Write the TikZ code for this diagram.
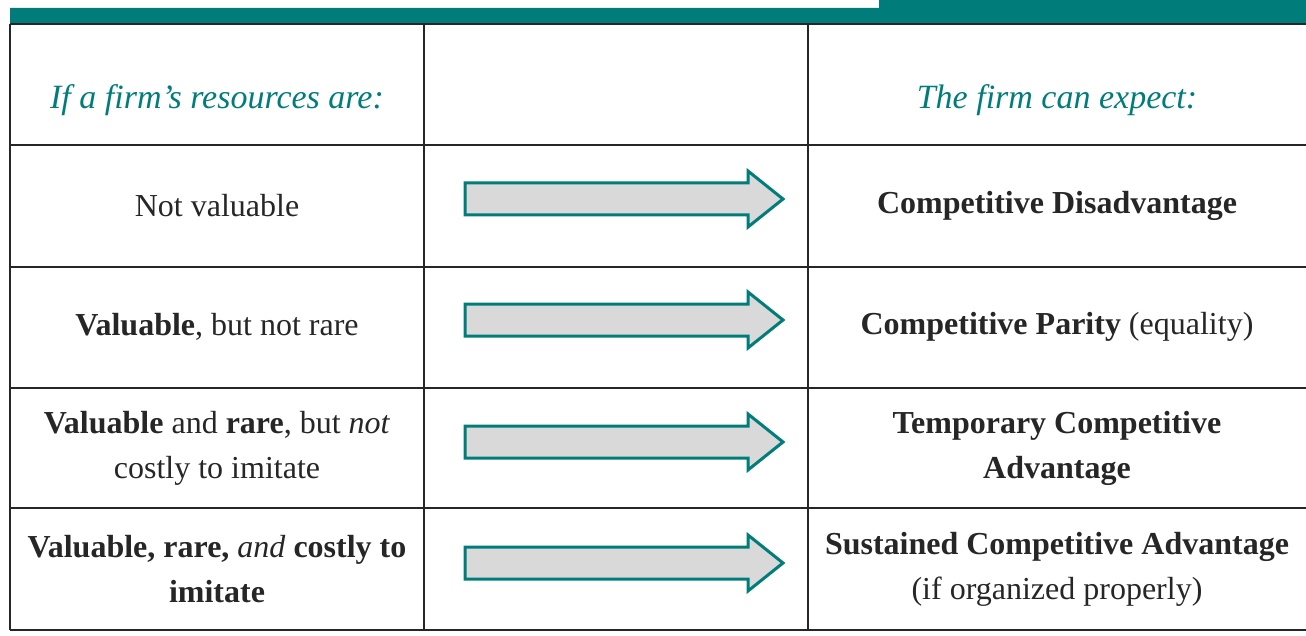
\documentclass[tikz,border=0pt]{standalone}
\usepackage{fontspec}
\setmainfont{Liberation Serif}
\definecolor{firmteal}{RGB}{0,125,122}
\tikzset{
  rule/.style={line width=1.2pt, draw=black!85},
  cellrule/.style={line width=1pt, draw=black!85},
  celltext/.style={align=center, text=black!85, font=\fontsize{16}{22.5}\selectfont},
  headtext/.style={align=center, text=firmteal, font=\fontsize{17}{22}\selectfont\itshape},
  blockarrow/.style={draw=firmteal, line width=1.5pt, fill=black!15, line join=miter},
}
\begin{document}
\begin{tikzpicture}[x=0.5pt, y=-0.5pt]
  \useasboundingbox (0,0) rectangle (1306,636);
  \fill[firmteal] (10,8) -- (879,8) -- (879,0) -- (1306,0) -- (1306,23) -- (10,23) -- cycle; % top band
  \draw[rule] (10,24) -- (1306,24);
  \foreach \y in {145,267,388,508,630} \draw[rule] (10,\y) -- (1306,\y);
  \foreach \x in {10,424,808} \draw[cellrule] (\x,24) -- (\x,630);
  \foreach \y in {199,320,442,563}
    \draw[blockarrow] (465,\y-16) -- (748,\y-16) -- (748,\y-28) -- (783,\y) -- (748,\y+28) -- (748,\y+16) -- (465,\y+16) -- cycle;
  \node[headtext] (headres) at (217,100) {If a firm's resources are:};
  \node[headtext] (headexp) at (1057,100) {The firm can expect:};
  \node[celltext] (res1) at (217,206) {Not valuable};
  \node[celltext] (res2) at (217,327) {\textbf{Valuable}, but not rare};
  \node[celltext] (res3) at (217,448) {\textbf{Valuable} and \textbf{rare}, but \textit{not}\\costly to imitate};
  \node[celltext] (res4) at (217,569) {\textbf{Valuable, rare,} \textit{and} \textbf{costly to}\\\textbf{imitate}};
  \node[celltext] (exp1) at (1057,206) {\textbf{Competitive Disadvantage}};
  \node[celltext] (exp2) at (1057,327) {\textbf{Competitive Parity} (equality)};
  \node[celltext] (exp3) at (1057,448) {\textbf{Temporary Competitive}\\\textbf{Advantage}};
  \node[celltext] (exp4) at (1057,569) {\textbf{Sustained Competitive Advantage}\\(if organized properly)};
\end{tikzpicture}
\end{document}
